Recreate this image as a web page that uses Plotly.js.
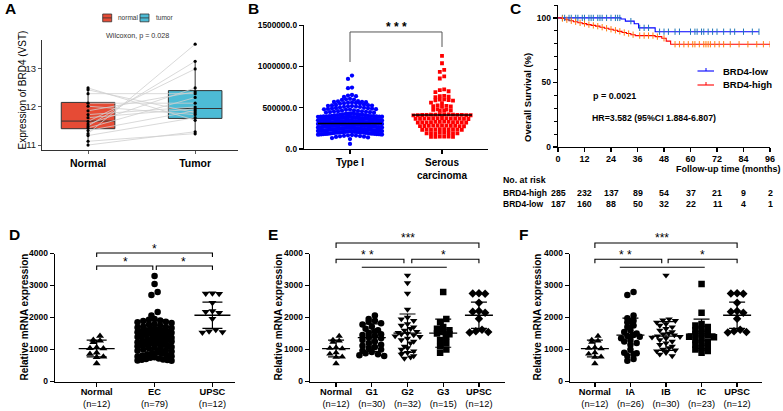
<!DOCTYPE html>
<html><head><meta charset="utf-8">
<script src="https://cdn.plot.ly/plotly-3.0.1.min.js"></script>
<style>html,body{margin:0;padding:0;background:#fff;}#chart{width:783px;height:411px;}</style>
</head><body><div id="chart"></div>
<script>
/* ================= DATA ================= */
// Panel A: paired TCGA samples, BRD4 expression (VST)
const aCategories = ['Normal', 'Tumor'];
const aNormalPaired = [12.50, 12.45, 12.35, 12.10, 12.02, 11.90, 11.80, 11.72, 11.62, 11.55, 11.50, 11.45, 11.38, 11.30, 11.25, 11.10, 11.00];
const aTumorPaired  = [11.65, 11.85, 12.35, 12.10, 11.80, 12.40, 12.00, 11.95, 13.00, 12.50, 13.20, 12.25, 11.90, 13.65, 11.72, 11.30, 11.35];
const aQ1 = [11.43, 11.70];
const aMedian = [11.63, 11.96];
const aQ3 = [12.12, 12.43];
const aLowerFence = [11.00, 11.25];
const aUpperFence = [12.50, 13.20];
const aLegendNames = ['normal', 'tumor'];
const aTestText = 'Wilcoxon, p = 0.028';

// Panel B: BRD4 expression, values in thousands
const bCategories = ['Type I', 'Serous<br>carcinoma'];
const bTypeI_k = [
 890,850,745,738,655,648,640,632,608,602,598,595,
 580,576,572,570,567,564,561,558,555,552,549,
 537,534,531,529,526,523,521,518,515,512,510,
 502,499,497,494,491,489,486,483,481,478,475,
 468,465,462,459,457,454,451,448,446,443,440,
 432,430,427,425,422,420,418,416,413,411,409,406,404,402,
 399,396,398,392,395,390,397,388,394,386,391,385,393,389,387,383,
 380,377,379,373,376,371,378,369,375,367,372,366,374,370,368,364,
 361,358,360,354,357,352,359,350,356,348,353,347,355,351,349,345,
 342,339,341,335,338,333,340,331,337,329,334,328,336,332,330,326,
 323,320,322,316,319,314,321,312,318,310,315,309,317,313,311,307,
 304,301,303,297,300,295,302,293,299,291,296,290,298,294,292,288,
 285,282,284,278,281,276,283,274,280,272,277,271,279,275,273,269,
 266,263,265,259,262,257,264,255,261,253,258,252,260,256,254,250,
 247,244,246,240,243,238,245,236,242,234,239,233,241,237,235,231,
 228,225,227,221,224,219,226,217,223,215,220,214,222,218,216,212,
 209,206,208,202,205,200,207,198,204,196,201,195,203,199,197,193,
 190,187,189,183,186,181,188,179,185,177,182,176,184,180,178,174,
 170,166,163,160,157,154,150,146,140,132,120,62
];
const bSerous_k = [
 1130,1040,960,935,880,855,
 722,715,700,690,
 645,640,635,628,
 602,598,594,590,586,
 562,556,
 528,524,520,516,512,
 482,478,474,470,466,462,
 421,420,419,418,417,416,415,414,413,412,411,410,409,408,
 376,375,374,373,372,371,370,369,368,367,366,365,364,
 331,330,329,328,327,326,325,324,323,322,321,320,
 286,285,284,283,282,281,280,279,278,277,276,
 241,240,239,238,237,236,235,234,233,232,
 196,195,194,193,192,191,190,189,
 151,150,149,148,147,146
];
const bMeans = [310000, 412000];
const bSigText = '* * *';

// Panel C: Kaplan-Meier overall survival
const cLowTimes = [0, 28.5, 30.5, 34.5, 36.5, 44, 91];
const cLowSurv  = [100, 99.2, 97.5, 95.5, 92.3, 89.3, 89.3];
const cHighTimes = [0, 1.5, 3, 5, 7, 9, 11, 13, 15, 17, 19, 21, 23, 25, 27, 29, 31, 33, 35, 44, 47, 49, 51, 96];
const cHighSurv  = [100, 99.5, 98.6, 97.8, 97, 96.2, 95.6, 94.8, 94.2, 93.6, 92.8, 92, 91.2, 90.4, 89.6, 88.7, 87.9, 87, 86.3, 85.5, 84.2, 82, 79.6, 79.6];
const cLowCensor = [2,3,5,6,8,9,11,12,14,15,16,18,19,20,22,24,26,27,28,33,37,39,41,46,48,50,53,55,60,62,63,65,66,68,70,72,75,78,80,84,88,91];
const cHighCensor = [2,4,6,8,10,12,14,16,18,20,22,24,26,28,30,32,34,37,39,41,43,45,48,53,55,57,59,61,62,64,66,67,68,69,71,73,75,78,82,86,90,93,96];
const cRiskTimes = [0, 12, 24, 36, 48, 60, 72, 84, 96];
const cRiskHigh = [285, 232, 137, 89, 54, 37, 21, 9, 2];
const cRiskLow  = [187, 160, 88, 50, 32, 22, 11, 4, 1];
const cSeriesNames = ['BRD4-low', 'BRD4-high'];
const cPText = 'p = 0.0021';
const cHRText = 'HR=3.582 (95%CI 1.884-6.807)';

// Panels D/E/F: relative mRNA expression
const grpNormal = [1420, 1300, 1270, 1230, 1060, 1040, 1030, 900, 860, 770, 760, 560];
const grpUPSC   = [2760, 2750, 2740, 2460, 2200, 2180, 2150, 1960, 1620, 1570, 1550, 1530];
const grpEC = [3300, 3050, 2800, 2700, 2170, 2060,
 1950, 1930, 1910, 1890, 1870, 1850, 1830, 1800, 1780, 1750,
 1720, 1700, 1690, 1670, 1650, 1640, 1620, 1600, 1590, 1570,
 1550, 1540, 1520, 1500, 1490, 1470, 1450, 1440, 1420, 1400,
 1390, 1370, 1350, 1340, 1320, 1300, 1290, 1270, 1250, 1230,
 1210, 1200, 1180, 1160, 1150, 1130, 1110, 1100, 1080, 1060,
 1040, 1020, 1000, 980, 960, 940, 910, 890, 870, 850,
 830, 810, 790, 780, 760, 740, 720, 700, 690, 680, 670, 660, 650];
const grpG1 = [2060, 1950, 1900, 1870, 1820, 1780, 1720, 1650, 1600, 1560, 1520, 1480, 1450, 1420, 1380, 1350, 1300, 1250, 1200, 1150, 1120, 1080, 1050, 1000, 960, 920, 880, 850, 820, 800];
const grpG2 = [3320, 3080, 2750, 2250, 2000, 1950, 1900, 1800, 1750, 1700, 1650, 1600, 1560, 1530, 1500, 1480, 1450, 1420, 1400, 1350, 1300, 1250, 1200, 1100, 1050, 1000, 950, 900, 850, 800, 760, 720];
const grpG3 = [2800, 1950, 1850, 1700, 1650, 1600, 1550, 1500, 1480, 1400, 1300, 1200, 1100, 1000, 900];
const grpIA = [2800, 2700, 2060, 1980, 1900, 1850, 1750, 1700, 1600, 1550, 1500, 1450, 1420, 1400, 1350, 1300, 1250, 1200, 1150, 1000, 900, 880, 850, 800, 700, 650];
const grpIB = [3320, 1950, 1920, 1900, 1850, 1800, 1750, 1700, 1650, 1600, 1550, 1500, 1480, 1450, 1420, 1400, 1380, 1350, 1300, 1250, 1200, 1150, 1100, 1050, 1000, 980, 950, 900, 850, 800];
const grpIC = [3050, 2150, 1800, 1750, 1700, 1650, 1600, 1550, 1500, 1480, 1450, 1400, 1380, 1350, 1300, 1250, 1200, 1150, 1100, 1050, 1000, 950, 900];

const dLabels = ['Normal', 'EC', 'UPSC'];
const dCounts = ['(n=12)', '(n=79)', '(n=12)'];
const dMeans = [1030, 1470, 2070];
const dSDs = [260, 460, 410];
const eLabels = ['Normal', 'G1', 'G2', 'G3', 'UPSC'];
const eCounts = ['(n=12)', '(n=30)', '(n=32)', '(n=15)', '(n=12)'];
const eMeans = [1030, 1370, 1510, 1510, 2070];
const eSDs = [260, 430, 600, 440, 410];
const fLabels = ['Normal', 'IA', 'IB', 'IC', 'UPSC'];
const fCounts = ['(n=12)', '(n=26)', '(n=30)', '(n=23)', '(n=12)'];
const fMeans = [1030, 1450, 1420, 1490, 2070];
const fSDs = [260, 530, 450, 460, 410];
const yTitleRel = 'Relative mRNA expression';

/* ================= LAYOUT HELPERS ================= */
const W = 783, H = 411;
const FONT = 'Liberation Sans, Arial, Helvetica, sans-serif';
const px = p => p / W, py = p => 1 - p / H;
const BOX = {
  A: {x0: 42, x1: 238, y0: 40, y1: 150, xr: [0.57, 2.40], yr: [10.87, 13.76]},
  B: {x0: 304, x1: 488, y0: 25.3, y1: 149, xr: [0.5, 2.5], yr: [0, 1500000]},
  C: {x0: 558, x1: 770, y0: 5, y1: 147, xr: [0, 96], yr: [0, 110]},
  D: {x0: 55, x1: 235, y0: 253.5, y1: 381.5, xr: [0.28, 3.39], yr: [0, 4000]},
  E: {x0: 310, x1: 505, y0: 253.5, y1: 381.5, xr: [0.27, 5.73], yr: [0, 4000]},
  F: {x0: 570, x1: 762, y0: 253.5, y1: 381.5, xr: [0.3, 5.7], yr: [0, 4000]}
};
const xpu = b => (b.x1 - b.x0) / (b.xr[1] - b.xr[0]);
const ypu = b => (b.y1 - b.y0) / (b.yr[1] - b.yr[0]);

// row-based scatter-dot layout (GraphPad style) computed from the values
function swarmX(vals, center, b, rowPx, dotPx, maxHalfPx) {
  const order = vals.map((v, i) => i).sort((p, q) => vals[q] - vals[p]);
  const xs = new Array(vals.length);
  let row = [], top = null;
  const flush = () => {
    const n = row.length;
    const sp = n > 1 ? Math.min(dotPx, 2 * maxHalfPx / (n - 1)) : 0;
    const arranged = [];
    row.forEach((_, j) => { if (j % 2 === 0) arranged.push(j); else arranged.unshift(j); });
    row.forEach((idx, j) => {
      const slot = arranged.indexOf(j);
      xs[idx] = center + ((slot - (n - 1) / 2) * sp) / xpu(b);
    });
    row = [];
  };
  order.forEach(i => {
    const v = vals[i];
    if (top === null || (top - v) * ypu(b) >= rowPx) { if (row.length) flush(); top = v; }
    row.push(i);
  });
  if (row.length) flush();
  return xs;
}

function axisStyle(extra) {
  return Object.assign({
    showline: true, linecolor: '#000', linewidth: 1.3, ticks: 'outside', ticklen: 4,
    tickwidth: 1.3, tickcolor: '#000', showgrid: false, zeroline: false, fixedrange: true,
    tickfont: {family: FONT, size: 9, color: '#000', weight: 'bold'}
  }, extra);
}

const traces = [];
const shapes = [];
const annotations = [];
function ann(o) {
  annotations.push(Object.assign({showarrow: false, xref: 'paper', yref: 'paper',
    font: {family: FONT, size: 10, color: '#000'}}, o));
}

/* ================= PANEL A ================= */
const aColors = ['#E64B35', '#4DBBD5'];
[0, 1].forEach(i => {
  traces.push({type: 'box', xaxis: 'x', yaxis: 'y', x: [i + 1],
    q1: [aQ1[i]], median: [aMedian[i]], q3: [aQ3[i]],
    lowerfence: [aLowerFence[i]], upperfence: [aUpperFence[i]],
    width: 0.5, fillcolor: aColors[i], line: {color: '#333333', width: 1},
    whiskerwidth: 0, boxpoints: false, hoverinfo: 'skip', showlegend: false, name: aLegendNames[i]});
});
const pairX = [], pairY = [];
aNormalPaired.forEach((v, i) => { pairX.push(1, 2, null); pairY.push(v, aTumorPaired[i], null); });
traces.push({type: 'scatter', mode: 'lines', xaxis: 'x', yaxis: 'y', x: pairX, y: pairY,
  line: {color: '#cfcfcf', width: 0.8}, hoverinfo: 'skip', showlegend: false});
traces.push({type: 'scatter', mode: 'markers', xaxis: 'x', yaxis: 'y',
  x: aNormalPaired.map(() => 1), y: aNormalPaired, marker: {color: '#000', size: 3.2}, showlegend: false});
traces.push({type: 'scatter', mode: 'markers', xaxis: 'x', yaxis: 'y',
  x: aTumorPaired.map(() => 2), y: aTumorPaired, marker: {color: '#000', size: 3.2}, showlegend: false});
// legend (manual)
[[102.7, aColors[0], 116, aLegendNames[0]], [140, aColors[1], 153.5, aLegendNames[1]]].forEach(k => {
  shapes.push({type: 'rect', xref: 'paper', yref: 'paper', x0: px(k[0]), x1: px(k[0] + 9),
    y0: py(21.8), y1: py(14), fillcolor: k[1], line: {color: '#333', width: 0.8}});
  shapes.push({type: 'line', xref: 'paper', yref: 'paper', x0: px(k[0]), x1: px(k[0] + 9),
    y0: py(17.9), y1: py(17.9), line: {color: '#333', width: 0.8}});
  ann({x: px(k[2]), y: py(18), xanchor: 'left', yanchor: 'middle', text: k[3],
    font: {family: FONT, size: 6.5, color: '#333'}});
});
ann({x: px(137), y: py(35), xanchor: 'center', yanchor: 'middle', text: aTestText,
  font: {family: FONT, size: 7.2, color: '#333'}});
ann({x: px(22.5), y: py(90), textangle: -90, xanchor: 'center', yanchor: 'middle',
  text: 'Expression of BRD4 (VST)', font: {family: FONT, size: 10, color: '#000'}});

/* ================= PANEL B ================= */
const bTypeI = bTypeI_k.map(v => v * 1000);
const bSerous = bSerous_k.map(v => v * 1000);
traces.push({type: 'scatter', mode: 'markers', xaxis: 'x2', yaxis: 'y2',
  x: swarmX(bTypeI, 1, BOX.B, 3.5, 4, 32), y: bTypeI,
  marker: {color: '#0000FF', size: 4.3, symbol: 'circle'}, showlegend: false});
traces.push({type: 'scatter', mode: 'markers', xaxis: 'x2', yaxis: 'y2',
  x: swarmX(bSerous, 2, BOX.B, 3.5, 4.4, 30), y: bSerous,
  marker: {color: '#FF0000', size: 3.8, symbol: 'square'}, showlegend: false});
(function () {
  const xs = [], ys = [];
  bMeans.forEach((m, i) => { const hw = (i === 0 ? 32 : 30) / xpu(BOX.B); xs.push(i + 1 - hw, i + 1 + hw, null); ys.push(m, m, null); });
  traces.push({type: 'scatter', mode: 'lines', xaxis: 'x2', yaxis: 'y2', x: xs, y: ys,
    line: {color: '#000', width: 1.4}, showlegend: false, hoverinfo: 'skip'});
})();
shapes.push({type: 'path', xref: 'x2', yref: 'y2', path: 'M1,1055000 L1,1419000 L2,1419000 L2,1237000',
  line: {color: '#555', width: 1}});
annotations.push({xref: 'x2', yref: 'paper', x: 1.5, y: py(27), text: '<b>' + bSigText + '</b>', showarrow: false,
  font: {family: FONT, size: 12, color: '#000'}, yanchor: 'middle'});

/* ================= PANEL C ================= */
function survAt(T, S, t) { let s = S[0]; for (let i = 0; i < T.length; i++) if (T[i] <= t) s = S[i]; return s; }
traces.push({type: 'scatter', mode: 'lines', xaxis: 'x3', yaxis: 'y3', x: cLowTimes, y: cLowSurv,
  line: {color: '#0000FF', width: 1.1, shape: 'hv'}, showlegend: false, name: cSeriesNames[0]});
traces.push({type: 'scatter', mode: 'lines', xaxis: 'x3', yaxis: 'y3', x: cHighTimes, y: cHighSurv,
  line: {color: '#FF0000', width: 1.1, shape: 'hv'}, showlegend: false, name: cSeriesNames[1]});
traces.push({type: 'scatter', mode: 'markers', xaxis: 'x3', yaxis: 'y3', x: cLowCensor,
  y: cLowCensor.map(t => survAt(cLowTimes, cLowSurv, t)),
  marker: {symbol: 'line-ns-open', size: 4.5, line: {color: '#0000FF', width: 1}}, showlegend: false});
traces.push({type: 'scatter', mode: 'markers', xaxis: 'x3', yaxis: 'y3', x: cHighCensor,
  y: cHighCensor.map(t => survAt(cHighTimes, cHighSurv, t)),
  marker: {symbol: 'line-ns-open', size: 4.5, line: {color: '#FF0000', width: 1}}, showlegend: false});
// manual legend
[[71, '#0000FF', cSeriesNames[0]], [85, '#FF0000', cSeriesNames[1]]].forEach(k => {
  shapes.push({type: 'line', xref: 'paper', yref: 'paper', x0: px(697.5), x1: px(714), y0: py(k[0]), y1: py(k[0]), line: {color: k[1], width: 1.1}});
  shapes.push({type: 'line', xref: 'paper', yref: 'paper', x0: px(706), x1: px(706), y0: py(k[0]), y1: py(k[0] - 3), line: {color: k[1], width: 1}});
  ann({x: px(720.5), y: py(k[0]), xanchor: 'left', yanchor: 'middle', text: '<b>' + k[2] + '</b>',
    font: {family: FONT, size: 9.5, color: '#000'}});
});
ann({x: px(614), y: py(96), xanchor: 'center', yanchor: 'middle', text: '<b>' + cPText + '</b>', font: {family: FONT, size: 9, color: '#000'}});
ann({x: px(654), y: py(118), xanchor: 'center', yanchor: 'middle', text: '<b>' + cHRText + '</b>', font: {family: FONT, size: 8.8, color: '#000'}});
ann({x: px(528), y: py(98), textangle: -90, xanchor: 'center', yanchor: 'middle', text: '<b>Overall Survival (%)</b>', font: {family: FONT, size: 9.5, color: '#000'}});
ann({x: px(782), y: py(168.5), xanchor: 'right', yanchor: 'middle', text: '<b>Follow-up time (months)</b>', font: {family: FONT, size: 9, color: '#000'}});
ann({x: px(501), y: py(179.5), xanchor: 'left', yanchor: 'middle', text: '<b>No. at risk</b>', font: {family: FONT, size: 8.8, color: '#000'}});
ann({x: px(501), y: py(192.7), xanchor: 'left', yanchor: 'middle', text: '<b>' + cSeriesNames[1] + '</b>', font: {family: FONT, size: 8.5, color: '#000'}});
ann({x: px(501), y: py(204.3), xanchor: 'left', yanchor: 'middle', text: '<b>' + cSeriesNames[0] + '</b>', font: {family: FONT, size: 8.5, color: '#000'}});
cRiskTimes.forEach((t, i) => {
  annotations.push({xref: 'x3', yref: 'paper', x: t, y: py(192.7), text: '<b>' + cRiskHigh[i] + '</b>', showarrow: false, xanchor: 'center', yanchor: 'middle', font: {family: FONT, size: 8.8, color: '#000'}});
  annotations.push({xref: 'x3', yref: 'paper', x: t, y: py(204.3), text: '<b>' + cRiskLow[i] + '</b>', showarrow: false, xanchor: 'center', yanchor: 'middle', font: {family: FONT, size: 8.8, color: '#000'}});
});

/* ================= PANELS D/E/F ================= */
function dotPanel(xa, ya, b, groups, symbols, sizes, means, sds, meanHalfPx, capPx, maxHalfPx) {
  groups.forEach((vals, i) => {
    traces.push({type: 'scatter', mode: 'markers', xaxis: xa, yaxis: ya,
      x: swarmX(vals, i + 1, b, 4.2, sizes[i] - 0.3, maxHalfPx[i]), y: vals,
      marker: {color: '#000', size: sizes[i], symbol: symbols[i]}, showlegend: false});
  });
  const xs = [], ys = [];
  means.forEach((m, i) => { const hw = meanHalfPx / xpu(b); xs.push(i + 1 - hw, i + 1 + hw, null); ys.push(m, m, null); });
  traces.push({type: 'scatter', mode: 'lines', xaxis: xa, yaxis: ya, x: xs, y: ys,
    line: {color: '#000', width: 1.3}, showlegend: false, hoverinfo: 'skip'});
  traces.push({type: 'scatter', mode: 'markers', xaxis: xa, yaxis: ya, x: means.map((m, i) => i + 1), y: means,
    marker: {size: 1, color: 'rgba(0,0,0,0)'},
    error_y: {type: 'data', array: sds, visible: true, color: '#000', thickness: 1.2, width: capPx},
    showlegend: false, hoverinfo: 'skip'});
}
dotPanel('x4', 'y4', BOX.D, [grpNormal, grpEC, grpUPSC], ['triangle-up', 'circle', 'triangle-down'],
  [7, 6.5, 7], dMeans, dSDs, 18, 10, [15, 17, 16]);
dotPanel('x5', 'y5', BOX.E, [grpNormal, grpG1, grpG2, grpG3, grpUPSC],
  ['triangle-up', 'circle', 'triangle-down', 'square', 'diamond'], [6.5, 6.5, 6.5, 6.5, 6.5],
  eMeans, eSDs, 14, 8, [13, 14, 14, 13, 14]);
dotPanel('x6', 'y6', BOX.F, [grpNormal, grpIA, grpIB, grpIC, grpUPSC],
  ['triangle-up', 'circle', 'triangle-down', 'square', 'diamond'], [6.5, 6.5, 6.5, 6.5, 6.5],
  fMeans, fSDs, 14, 8, [13, 14, 14, 13, 14]);

function bracket(xref, xa, xb, yPx, dropA, dropB) {
  shapes.push({type: 'path', xref: xref, yref: 'paper',
    path: 'M' + xa + ',' + py(yPx + dropA) + ' L' + xa + ',' + py(yPx) + ' L' + xb + ',' + py(yPx) + ' L' + xb + ',' + py(yPx + dropB),
    line: {color: '#000', width: 1.1}});
}
function star(xref, x, yPx, txt) {
  annotations.push({xref: xref, yref: 'paper', x: x, y: py(yPx), text: txt, showarrow: false,
    xanchor: 'center', yanchor: 'middle', font: {family: FONT, size: 12, color: '#000'}});
}
// D
bracket('x4', 1, 3, 253, 4, 4); star('x4', 2, 248.5, '*');
bracket('x4', 1, 1.97, 266, 4, 4); star('x4', 1.5, 261.5, '*');
bracket('x4', 2.03, 3, 266, 4, 4); star('x4', 2.5, 261.5, '*');
// E
bracket('x5', 1, 5, 243, 5, 5); star('x5', 3, 238, '***');
bracket('x5', 1, 2.9, 259.3, 4, 4); star('x5', 1.88, 254.5, '* *');
bracket('x5', 3.12, 5, 259.3, 4, 4); star('x5', 4.02, 254.5, '*');
shapes.push({type: 'line', xref: 'x5', yref: 'paper', x0: 1.72, x1: 4.1, y0: py(267.3), y1: py(267.3), line: {color: '#000', width: 1.1}});
// F
bracket('x6', 1, 5, 243, 5, 5); star('x6', 2.9, 238, '***');
bracket('x6', 1, 2.88, 259.3, 4, 4); star('x6', 1.85, 254.5, '* *');
bracket('x6', 3.06, 5, 259.3, 4, 4); star('x6', 4.03, 254.5, '*');
shapes.push({type: 'line', xref: 'x6', yref: 'paper', x0: 1.7, x1: 4.09, y0: py(267.3), y1: py(267.3), line: {color: '#000', width: 1.1}});

[[24, 'D'], [278, 'E'], [537, 'F']].forEach(k => {
  ann({x: px(k[0]), y: py(317.5), textangle: -90, xanchor: 'center', yanchor: 'middle',
    text: '<b>' + yTitleRel + '</b>', font: {family: FONT, size: 10, color: '#000'}});
});

// panel letters
[[3, 8.5, 'A'], [246, 8.5, 'B'], [508, 8.5, 'C'], [7, 234.5, 'D'], [266, 234.5, 'E'], [516.5, 234.5, 'F']].forEach(k => {
  ann({x: px(k[0]), y: py(k[1]), xanchor: 'left', yanchor: 'middle', text: '<b>' + k[2] + '</b>',
    font: {family: FONT, size: 15.5, color: '#000'}});
});

/* ================= AXES ================= */
const dom = (b) => ({x: [px(b.x0), px(b.x1)], y: [py(b.y1), py(b.y0)]});
const tt = (labels, counts) => labels.map((l, i) => '<b>' + l + '</b><br>' + counts[i]);
const bottomX = (b, key, n, labels, counts) => axisStyle({domain: dom(b).x, range: b.xr, anchor: key,
  tickvals: n, ticktext: tt(labels, counts), ticklabelstandoff: -3,
  tickfont: {family: FONT, size: 9.3, color: '#000'}});
const layout = {
  width: W, height: H, margin: {l: 0, r: 0, t: 0, b: 0}, paper_bgcolor: '#fff', plot_bgcolor: 'rgba(0,0,0,0)',
  showlegend: false, font: {family: FONT},
  xaxis: axisStyle({domain: dom(BOX.A).x, range: BOX.A.xr, anchor: 'y', tickvals: [1, 2], ticktext: aCategories,
    linewidth: 1, tickwidth: 0.8, ticklen: 3, tickcolor: '#333', linecolor: '#333',
    tickfont: {family: FONT, size: 10.5, color: '#000', weight: 'bold'}}),
  yaxis: axisStyle({domain: dom(BOX.A).y, range: BOX.A.yr, anchor: 'x', tickvals: [11, 12, 13],
    linewidth: 1, tickwidth: 0.8, ticklen: 3, tickcolor: '#333', linecolor: '#333',
    tickfont: {family: FONT, size: 9.5, color: '#222'}}),
  xaxis2: axisStyle({domain: dom(BOX.B).x, range: BOX.B.xr, anchor: 'y2', tickvals: [1, 2], ticktext: bCategories,
    tickfont: {family: FONT, size: 10, color: '#000', weight: 'bold'}}),
  yaxis2: axisStyle({domain: dom(BOX.B).y, range: BOX.B.yr, anchor: 'x2', tickvals: [0, 500000, 1000000, 1500000],
    tickformat: '.1f', tickfont: {family: FONT, size: 8.3, color: '#000', weight: 'bold'}}),
  xaxis3: axisStyle({domain: dom(BOX.C).x, range: BOX.C.xr, anchor: 'y3', tickvals: cRiskTimes, ticklabelstandoff: -1,
    tickfont: {family: FONT, size: 9, color: '#000', weight: 'bold'}}),
  yaxis3: axisStyle({domain: dom(BOX.C).y, range: BOX.C.yr, anchor: 'x3', tickvals: [0, 50, 100],
    minor: {tickvals: [10, 20, 30, 40, 60, 70, 80, 90, 110], ticks: 'outside', ticklen: 2.5, tickwidth: 1, tickcolor: '#000'},
    tickfont: {family: FONT, size: 8.5, color: '#000', weight: 'bold'}}),
  xaxis4: bottomX(BOX.D, 'y4', [1, 2, 3], dLabels, dCounts),
  yaxis4: axisStyle({domain: dom(BOX.D).y, range: BOX.D.yr, anchor: 'x4', tickvals: [0, 1000, 2000, 3000, 4000],
    tickfont: {family: FONT, size: 8.5, color: '#000', weight: 'bold'}}),
  xaxis5: bottomX(BOX.E, 'y5', [1, 2, 3, 4, 5], eLabels, eCounts),
  yaxis5: axisStyle({domain: dom(BOX.E).y, range: BOX.E.yr, anchor: 'x5', tickvals: [0, 1000, 2000, 3000, 4000],
    tickfont: {family: FONT, size: 8.5, color: '#000', weight: 'bold'}}),
  xaxis6: bottomX(BOX.F, 'y6', [1, 2, 3, 4, 5], fLabels, fCounts),
  yaxis6: axisStyle({domain: dom(BOX.F).y, range: BOX.F.yr, anchor: 'x6', tickvals: [0, 1000, 2000, 3000, 4000],
    tickfont: {family: FONT, size: 8.5, color: '#000', weight: 'bold'}}),
  shapes: shapes,
  annotations: annotations
};
Plotly.newPlot('chart', traces, layout, {staticPlot: true, displayModeBar: false});
</script>
</body></html>
